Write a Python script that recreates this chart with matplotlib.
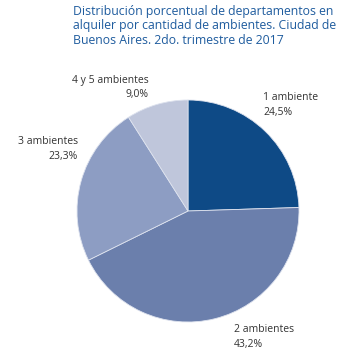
import matplotlib
matplotlib.use("Agg")
import matplotlib.pyplot as plt

categories = ["1 ambiente", "2 ambientes", "3 ambientes", "4 y 5 ambientes"]
values = [24.5, 43.2, 23.3, 9.0]
value_labels = ["24,5%", "43,2%", "23,3%", "9,0%"]
colors = ["#0e4a86", "#6b7fac", "#8d9dc3", "#bfc6db"]
title = "Distribución porcentual de departamentos en\nalquiler por cantidad de ambientes. Ciudad de\nBuenos Aires. 2do. trimestre de 2017"

plt.rcParams['font.family'] = ['Open Sans', 'DejaVu Sans']
W = H = 350
fig = plt.figure(figsize=(3.5, 3.5), dpi=100)

cx, cy, r = 188, 211, 111
ax = fig.add_axes([(cx - r) / W, (H - cy - r) / H, 2 * r / W, 2 * r / H])
ax.pie(values, colors=colors, startangle=90, counterclock=False,
       wedgeprops=dict(edgecolor="#dde2ee", linewidth=0.6))
ax.set_xlim(-1, 1)
ax.set_ylim(-1, 1)
ax.set_aspect("equal")
ax.axis("off")

fig.text(73 / W, 1 - 5 / H, title, ha="left", va="top", fontsize=8.85,
         color="#1f5c9e", linespacing=1.15)

tc = "#333333"
fs = 7.5
pos = {
    0: (263, 98, "left"),
    1: (234, 330, "left"),
    2: (78, 142, "right"),
    3: (149, 81, "right"),
}
for i, (x, y, ha) in pos.items():
    fig.text(x / W, 1 - y / H, categories[i], ha=ha, va="center", fontsize=fs, color=tc)
    fig.text(x / W, 1 - (y + 14) / H, value_labels[i], ha=ha, va="center", fontsize=fs, color=tc)

fig.savefig("out.png", dpi=100, facecolor="white")
